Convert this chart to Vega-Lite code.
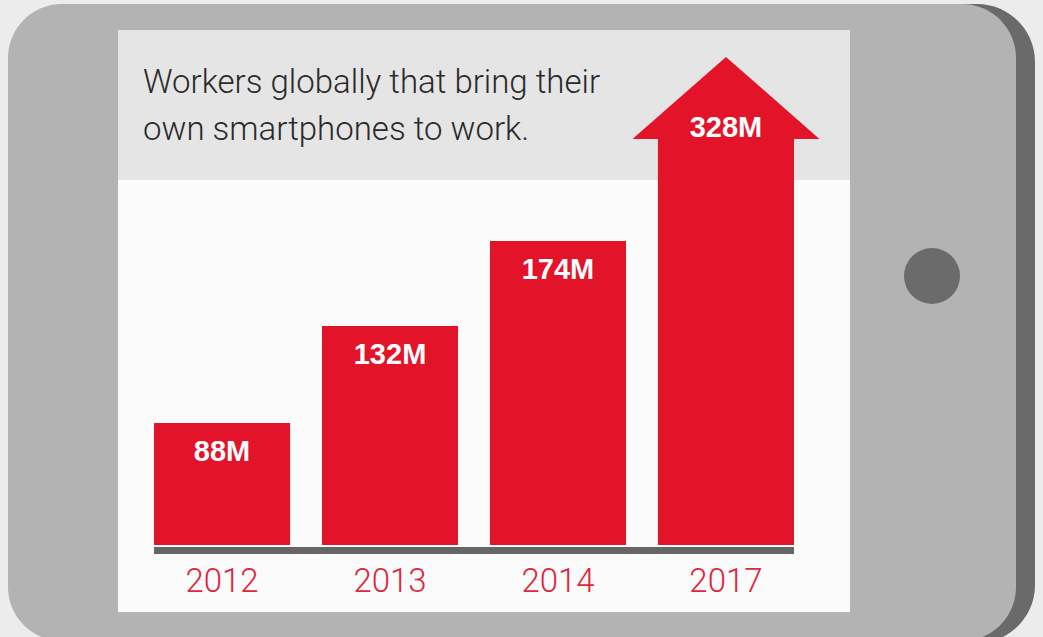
{
  "$schema": "https://vega.github.io/schema/vega-lite/v6.json",
  "width": 1043,
  "height": 637,
  "autosize": {"type": "fit", "contains": "padding"},
  "padding": 0,
  "background": "#ececec",
  "config": {
    "view": {"stroke": null},
    "axis": {"disable": true}
  },
  "data": {
    "values": [
      {"year": "2012", "value": 88, "label": "88M"},
      {"year": "2013", "value": 132, "label": "132M"},
      {"year": "2014", "value": 174, "label": "174M"},
      {"year": "2017", "value": 328, "label": "328M"}
    ]
  },
  "resolve": {"scale": {"x": "independent", "y": "independent"}},
  "layer": [
    {
      "data": {"values": [{}]},
      "layer": [
        {
          "mark": {"type": "rect", "color": "#6a6a6a", "cornerRadius": 58, "clip": true},
          "encoding": {
            "x": {"datum": 30, "type": "quantitative", "scale": {"domain": [0, 1043], "nice": false, "zero": false}},
            "x2": {"datum": 1035},
            "y": {"datum": 4, "type": "quantitative", "scale": {"domain": [0, 637], "reverse": true, "nice": false, "zero": false}},
            "y2": {"datum": 643}
          }
        },
        {
          "mark": {"type": "rect", "color": "#b3b3b3", "cornerRadius": 54, "clip": true},
          "encoding": {
            "x": {"datum": 8, "type": "quantitative"},
            "x2": {"datum": 1016},
            "y": {"datum": 4, "type": "quantitative"},
            "y2": {"datum": 641}
          }
        },
        {
          "mark": {"type": "rect", "color": "#fbfbfb"},
          "encoding": {
            "x": {"datum": 118, "type": "quantitative"},
            "x2": {"datum": 850},
            "y": {"datum": 30, "type": "quantitative"},
            "y2": {"datum": 612}
          }
        },
        {
          "mark": {"type": "rect", "color": "#e5e5e5"},
          "encoding": {
            "x": {"datum": 118, "type": "quantitative"},
            "x2": {"datum": 850},
            "y": {"datum": 30, "type": "quantitative"},
            "y2": {"datum": 180}
          }
        },
        {
          "mark": {"type": "point", "shape": "circle", "filled": true, "opacity": 1, "color": "#6b6b6b", "size": 3136},
          "encoding": {
            "x": {"datum": 932, "type": "quantitative"},
            "y": {"datum": 276, "type": "quantitative"}
          }
        },
        {
          "mark": {"type": "rect", "color": "#666666"},
          "encoding": {
            "x": {"datum": 154, "type": "quantitative"},
            "x2": {"datum": 794},
            "y": {"datum": 547, "type": "quantitative"},
            "y2": {"datum": 554}
          }
        },
        {
          "mark": {
            "type": "text",
            "text": ["Workers globally that bring their", "own smartphones to work."],
            "align": "left",
            "baseline": "alphabetic",
            "lineHeight": 47,
            "font": "Roboto",
            "fontWeight": 300,
            "fontSize": 33,
            "color": "#2a2a2a"
          },
          "encoding": {
            "x": {"datum": 143, "type": "quantitative"},
            "y": {"datum": 93, "type": "quantitative"}
          }
        }
      ]
    },
    {
      "encoding": {
        "x": {
          "field": "year",
          "type": "ordinal",
          "scale": {
            "domain": ["2012", "2013", "2014", "2017"],
            "range": [154, 794],
            "paddingInner": 0.19,
            "paddingOuter": 0
          }
        },
        "y": {
          "field": "value",
          "type": "quantitative",
          "scale": {
            "domain": [0, 88, 132, 174, 328],
            "range": [545, 423, 326, 241, 139],
            "nice": false,
            "zero": false
          }
        }
      },
      "layer": [
        {
          "mark": {"type": "bar", "color": "#e31329"},
          "encoding": {"y2": {"datum": 0}}
        },
        {
          "transform": [{"filter": "datum.year == '2017'"}],
          "mark": {
            "type": "point",
            "shape": "M-1,0L1,0L0,-0.877Z",
            "filled": true,
            "opacity": 1,
            "color": "#e31329",
            "size": 34969
          }
        },
        {
          "transform": [{"filter": "datum.year != '2017'"}],
          "mark": {
            "type": "text",
            "baseline": "alphabetic",
            "dy": 38,
            "font": "Liberation Sans",
            "fontWeight": "bold",
            "fontSize": 29,
            "color": "#ffffff"
          },
          "encoding": {"text": {"field": "label"}}
        },
        {
          "transform": [{"filter": "datum.year == '2017'"}],
          "mark": {
            "type": "text",
            "baseline": "alphabetic",
            "dy": -2,
            "font": "Liberation Sans",
            "fontWeight": "bold",
            "fontSize": 29,
            "color": "#ffffff"
          },
          "encoding": {"text": {"field": "label"}}
        },
        {
          "mark": {
            "type": "text",
            "baseline": "alphabetic",
            "dy": 47,
            "font": "Roboto",
            "fontWeight": 300,
            "fontSize": 33,
            "color": "#e0263a"
          },
          "encoding": {
            "y": {"datum": 0, "type": "quantitative"},
            "text": {"field": "year"}
          }
        }
      ]
    }
  ]
}
